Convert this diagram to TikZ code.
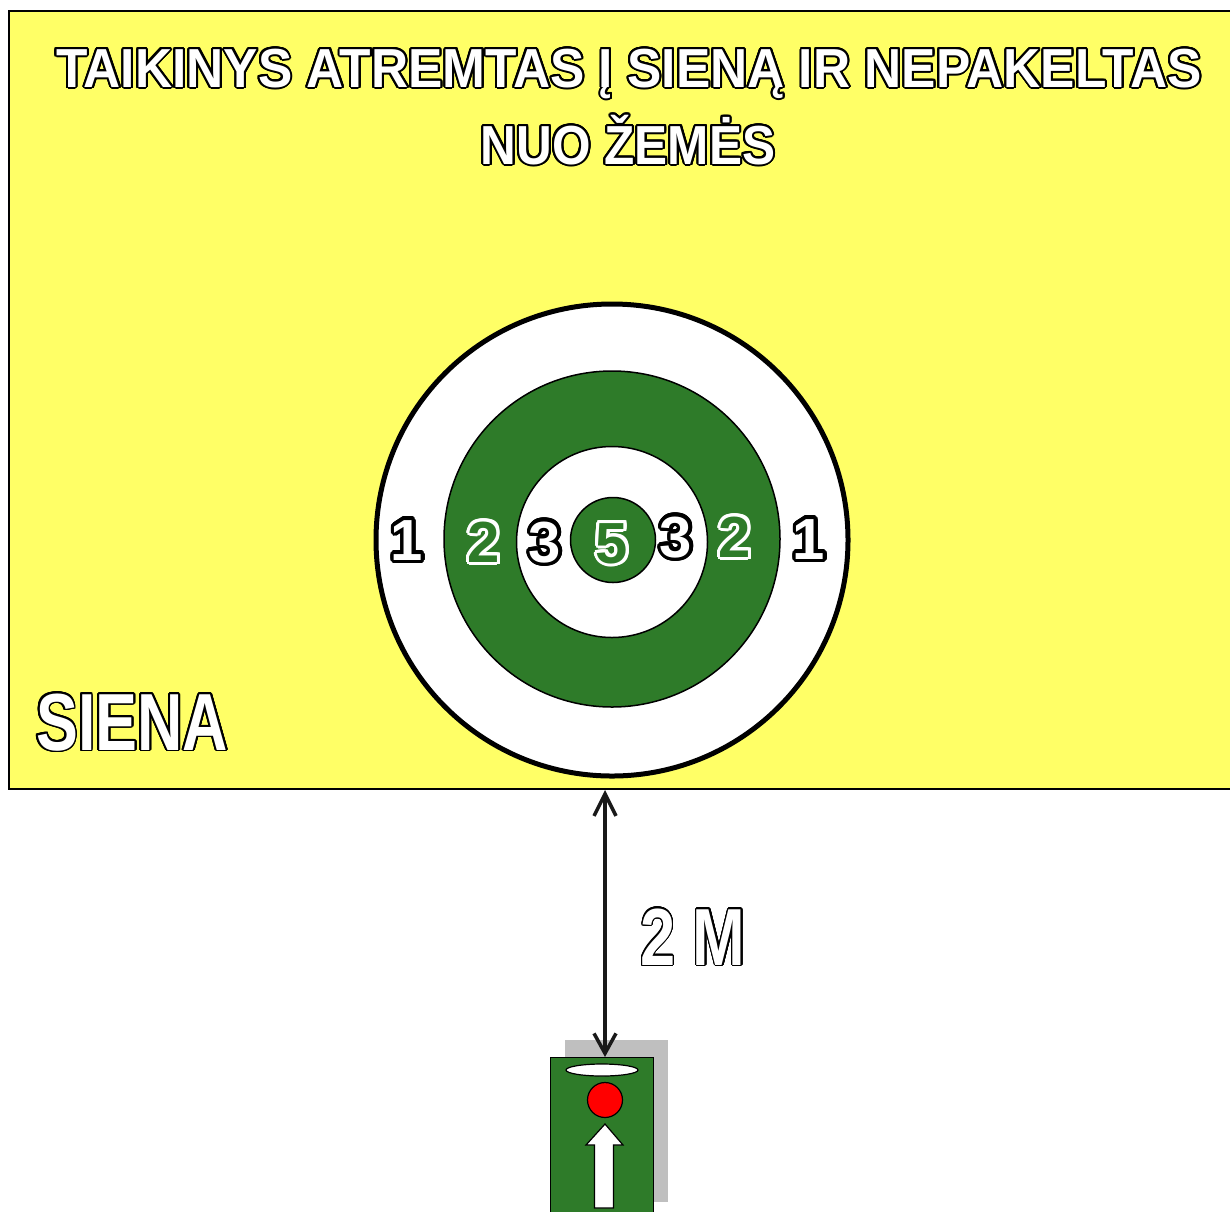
\documentclass[tikz,border=0pt]{standalone}
\usepackage{fontspec}
\setmainfont{Liberation Sans}
\usepackage{contour}
\contournumber{24}
\usetikzlibrary{arrows.meta,shapes.geometric}
\definecolor{wallyellow}{RGB}{255,255,102}
\definecolor{tgreen}{RGB}{46,123,41}
\definecolor{shadowgray}{RGB}{191,191,191}
\newcommand{\otxt}[4]{{\contourlength{#1}\contour{#2}{\textcolor{#3}{#4}}}}
\tikzset{
  txt/.style={inner sep=0pt, anchor=base, font=\bfseries},
  ring/.style={circle, draw=black, line width=1.5pt, inner sep=0pt},
  num/.style={txt, font=\fontsize{58}{60}\selectfont\bfseries},
}
\begin{document}
\begin{tikzpicture}[x=1pt,y=-1pt]
\useasboundingbox (0,0) rectangle (1230,1211);
\fill[white] (0,0) rectangle (1230,1211);
% wall
\node[draw=black, line width=1.5pt, fill=wallyellow, anchor=north west, minimum width=1235, minimum height=778, inner sep=0pt] (wall) at (8,10) {};
% title
\node[txt, font=\fontsize{55}{60}\selectfont\bfseries] (title1) at (629,87) {\otxt{2pt}{black}{white}{\scalebox{0.935}[1]{TAIKINYS ATREMTAS Į SIENĄ IR NEPAKELTAS}}};
\node[txt, font=\fontsize{55}{60}\selectfont\bfseries] (title2) at (628,164) {\otxt{2pt}{black}{white}{\scalebox{0.9}[1]{NUO ŽEMĖS}}};
% SIENA
\node[txt, anchor=base west, font=\fontsize{81}{84}\selectfont\bfseries] (siena) at (36,750) {\otxt{1.8pt}{black}{white}{\scalebox{0.775}[1]{SIENA}}};
% target
\node[ring, line width=5pt, fill=white, minimum size=472] (c1) at (612,540) {};
\node[ring, fill=tgreen, minimum size=336] (c2) at (612,539) {};
\node[ring, fill=white, minimum size=191] (c3) at (612,542) {};
\node[ring, fill=tgreen, minimum size=85] (c4) at (613,540) {};
\node[num] (n1l) at (407,560) {\otxt{3.6pt}{black}{white}{1}};
\node[num] (n2l) at (484,562) {\otxt{3pt}{white}{tgreen}{2}};
\node[num] (n3l) at (545,562) {\otxt{3.6pt}{black}{white}{3}};
\node[num] (n5) at (612,563) {\otxt{3pt}{white}{tgreen}{5}};
\node[num] (n3r) at (676,557) {\otxt{3.6pt}{black}{white}{3}};
\node[num] (n2r) at (735,557) {\otxt{3pt}{white}{tgreen}{2}};
\node[num] (n1r) at (809,559) {\otxt{3.6pt}{black}{white}{1}};
% device
\node[fill=shadowgray, anchor=north west, minimum width=103, minimum height=162, inner sep=0pt] (shadow) at (565,1040) {};
\node[draw=black, line width=1.2pt, fill=tgreen, anchor=north west, minimum width=103, minimum height=170, inner sep=0pt] (device) at (550,1057) {};
\node[ellipse, draw=black, line width=1.2pt, fill=white, minimum width=72, minimum height=12, inner sep=0pt] (lens) at (602,1070) {};
\node[circle, draw=black, line width=1.2pt, fill=red, minimum size=35, inner sep=0pt] (redbtn) at (605,1100) {};
\draw[line width=1.2pt, fill=white] (605,1124) -- (623,1145) -- (613.5,1145) -- (613.5,1208) -- (594.5,1208) -- (594.5,1145) -- (586,1145) -- cycle;
% distance arrow
\coordinate (wallpt) at (605,790);
\coordinate (devpt) at (605,1057);
\draw[line width=3.5pt, black!90, {Straight Barb[length=22pt,width=22pt]}-{Straight Barb[length=20pt,width=22pt]}] (wallpt) -- (devpt);
\node[txt, font=\fontsize{81}{84}\selectfont\bfseries] (dist) at (693,965) {\otxt{1.2pt}{black}{white}{\scalebox{0.78}[1]{2 M}}};
\end{tikzpicture}
\end{document}
